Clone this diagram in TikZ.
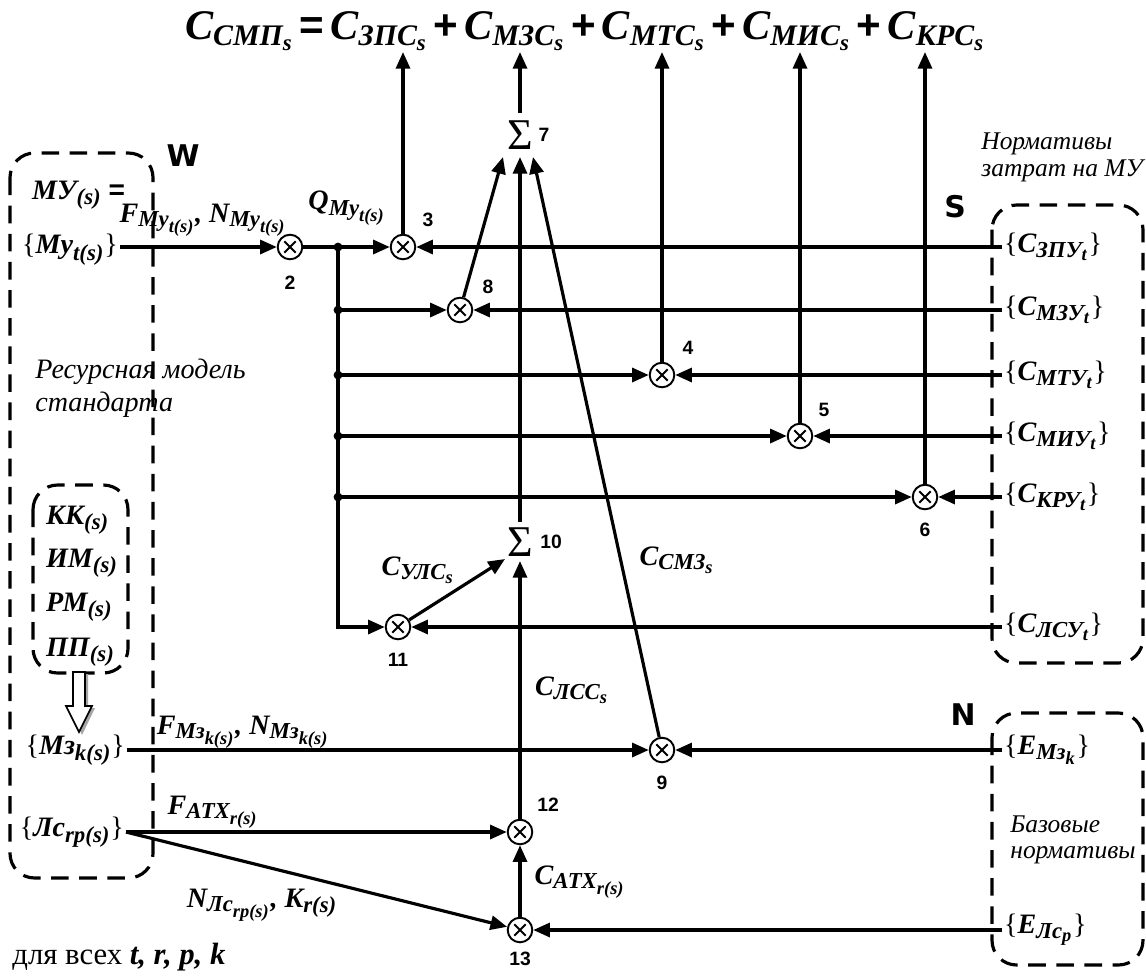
\documentclass[tikz,border=0pt]{standalone}
\usepackage{amsmath}
\usepackage{fontspec}
\setmainfont{Liberation Serif}
\setsansfont{Liberation Sans}
\newfontfamily\dvs{DejaVu Sans}
\usetikzlibrary{arrows.meta,calc}
\DeclareMathSizes{16}{16}{13}{10.5}
\DeclareMathSizes{24}{24}{17}{13}
\newcommand{\T}[1]{\text{#1}}
\newcommand{\LB}{{\normalfont\{}}
\newcommand{\RB}{{\normalfont\}}}
\newcommand{\op}[1]{\hspace{3.5pt}{\sffamily\upshape #1}\hspace{3.5pt}}
\tikzset{
 lbl/.style={font=\fontsize{16}{19}\selectfont\bfseries\itshape, inner sep=1pt},
 bigf/.style={font=\fontsize{24}{30}\selectfont\bfseries\itshape, inner sep=0pt},
 num/.style={font=\fontsize{11}{13}\selectfont\sffamily\bfseries, inner sep=0pt},
 dbox/.style={dash pattern=on 10pt off 6pt, line width=1.8pt, rounded corners=14pt},
 ln/.style={line width=1.8pt},
 ar/.style={line width=1.8pt, -{Triangle[length=9.5pt,width=8pt]}},
 mul/.style={circle, draw, line width=1.1pt, minimum size=14pt, inner sep=0pt, fill=white,
   path picture={\draw[line width=1.1pt]
     ($(path picture bounding box.center)+(45:4.6pt)$) -- ($(path picture bounding box.center)+(225:4.6pt)$)
     ($(path picture bounding box.center)+(135:4.6pt)$) -- ($(path picture bounding box.center)+(-45:4.6pt)$);}},
 sig/.style={font=\fontsize{25}{27}\selectfont, inner sep=0pt},
 junc/.style={circle, fill, inner sep=0pt, minimum size=5pt},
 wsn/.style={font=\fontsize{17}{19}\selectfont\dvs\bfseries, inner sep=0pt},
 note/.style={font=\fontsize{16}{19}\selectfont\itshape, align=left, inner sep=0pt},
}
\begin{document}
\begin{tikzpicture}[x=0.02cm,y=-0.02cm]
\useasboundingbox (0,0) rectangle (1146,975);
% formula
\node[bigf] (F) at (585,31) {$\T{C}_{\T{СМП}_{\T{s}}}$\op{=}$\T{C}_{\T{ЗПС}_{\T{s}}}$\op{+}$\T{C}_{\T{МЗС}_{\T{s}}}$\op{+}$\T{C}_{\T{МТС}_{\T{s}}}$\op{+}$\T{C}_{\T{МИС}_{\T{s}}}$\op{+}$\T{C}_{\T{КРС}_{\T{s}}}$};
\coordinate (top) at (0,52);
% boxes
\draw[dbox] (10,153) rectangle (153,878);
\draw[dbox] (33,485) rectangle (128,673);
\draw[dbox] (992,205) rectangle (1143,663);
\draw[dbox] (992,713) rectangle (1143,965);
\node[wsn] (W) at (183,156) {W};
\node[wsn] (S) at (955,207) {S};
\node[wsn] (N) at (963,715) {N};
% hollow arrow
\fill[gray!70] (76,674) -- (76,708) -- (69,708) -- (82,735) -- (95,708) -- (88,708) -- (88,674) -- cycle;
\draw[line width=1pt, fill=white] (73,672) -- (73,706) -- (66,706) -- (79,732) -- (92,706) -- (85,706) -- (85,672) -- cycle;
% left texts
\node[lbl, anchor=west] (mu) at (30,195) {МУ$_{\T{(s)}}$ {\sffamily\upshape =}};
\node[lbl, anchor=east] (myt) at (120,250) {\LB$\T{Му}_{\T{t(s)}}$\RB};
\node[lbl, anchor=west] (kk) at (44,520) {КК$_{\T{(s)}}$};
\node[lbl, anchor=west] (im) at (44,563) {ИМ$_{\T{(s)}}$};
\node[lbl, anchor=west] (rm) at (44,607) {РМ$_{\T{(s)}}$};
\node[lbl, anchor=west] (pp) at (44,652) {ПП$_{\T{(s)}}$};
\node[lbl, anchor=east] (mz) at (127,750) {\LB$\T{Мз}_{\T{k(s)}}$\RB};
\node[lbl, anchor=east] (lc) at (126,832) {\LB$\T{Лс}_{\T{rp(s)}}$\RB};
\node[note, anchor=west] (res) at (35,388) {Ресурсная модель\\стандарта};
\node[anchor=west, inner sep=0pt, font=\fontsize{17.5}{20}\selectfont] (dv) at (12,957) {для всех \textbf{\textit{t, r, p, k}}};
% right texts
\node[note, anchor=west, font=\fontsize{14.5}{15.5}\selectfont\itshape] (nz) at (981,157) {Нормативы\\затрат на МУ};
\node[note, anchor=west, font=\fontsize{14.5}{15}\selectfont\itshape] (bn) at (1010,840) {Базовые\\нормативы};
\node[lbl, anchor=west] (c1) at (1002,247) {\LB$\T{C}_{\T{ЗПУ}_{\T{t}}}$\RB};
\node[lbl, anchor=west] (c2) at (1002,310) {\LB$\T{C}_{\T{МЗУ}_{\T{t}}}$\RB};
\node[lbl, anchor=west] (c3) at (1002,375) {\LB$\T{C}_{\T{МТУ}_{\T{t}}}$\RB};
\node[lbl, anchor=west] (c4) at (1002,436) {\LB$\T{C}_{\T{МИУ}_{\T{t}}}$\RB};
\node[lbl, anchor=west] (c5) at (1002,497) {\LB$\T{C}_{\T{КРУ}_{\T{t}}}$\RB};
\node[lbl, anchor=west] (c6) at (1002,627) {\LB$\T{C}_{\T{ЛСУ}_{\T{t}}}$\RB};
\node[lbl, anchor=west] (e1) at (1002,750) {\LB$\T{E}_{\T{Мз}_{\T{k}}}$\RB};
\node[lbl, anchor=west] (e2) at (1002,930) {\LB$\T{E}_{\T{Лс}_{\T{p}}}$\RB};
% operators
\node[mul] (m2) at (290,247) {};
\node[mul] (m3) at (403,247) {};
\node[mul] (m8) at (460,310) {};
\node[mul] (m4) at (662,375) {};
\node[mul] (m5) at (800,436) {};
\node[mul] (m6) at (925,497) {};
\node[mul] (m11) at (398,627) {};
\node[mul] (m9) at (662,750) {};
\node[mul] (m12) at (520,832) {};
\node[mul] (m13) at (520,930) {};
\node[sig] (s7) at (520,135) {Σ};
\node[sig] (s10) at (520,542) {Σ};
% numbers
\node[num] (n2) at (290,283) {2};
\node[num] (n3) at (428,220) {3};
\node[num] (n8) at (488,287) {8};
\node[num] (n4) at (688,348) {4};
\node[num] (n5) at (824,410) {5};
\node[num] (n6) at (925,530) {6};
\node[num] (n7) at (544,135) {7};
\node[num] (n10) at (551,542) {10};
\node[num] (n11) at (398,660) {11};
\node[num] (n9) at (662,783) {9};
\node[num] (n12) at (548,805) {12};
\node[num] (n13) at (520,959) {13};
% edge labels
\node[lbl] (fmy) at (203,220) {$\T{F}_{\T{Му}_{\T{t(s)}}}$, $\T{N}_{\T{Му}_{\T{t(s)}}}$};
\node[lbl] (q) at (347,208) {$\T{Q}_{\T{Му}_{\T{t(s)}}}$};
\node[lbl] (fmz) at (243,732) {$\T{F}_{\T{Мз}_{\T{k(s)}}}$, $\T{N}_{\T{Мз}_{\T{k(s)}}}$};
\node[lbl] (fatx) at (213,812) {$\T{F}_{\T{АТХ}_{\T{r(s)}}}$};
\node[lbl] (nlc) at (262,905) {$\T{N}_{\T{Лс}_{\T{rp(s)}}}$, $\T{K}_{\T{r(s)}}$};
\node[lbl] (cul) at (418,570) {$\T{C}_{\T{УЛС}_{\T{s}}}$};
\node[lbl] (csm) at (677,560) {$\T{C}_{\T{СМЗ}_{\T{s}}}$};
\node[lbl] (clc) at (572,690) {$\T{C}_{\T{ЛСС}_{\T{s}}}$};
\node[lbl] (catx) at (580,882) {$\T{C}_{\T{АТХ}_{\T{r(s)}}}$};
% branch points
\coordinate (b1) at (338,247);
\coordinate (b2) at (338,310);
\coordinate (b3) at (338,375);
\coordinate (b4) at (338,436);
\coordinate (b5) at (338,497);
% connectors
\draw[ar] (myt.east |- m2) -- (m2);
\draw[ar] (m2) -- (m3);
\draw[ar] (b1) |- (m11);
\draw[ar] (b2) -- (m8);
\draw[ar] (b3) -- (m4);
\draw[ar] (b4) -- (m5);
\draw[ar] (b5) -- (m6);
\foreach \b in {b1,b2,b3,b4,b5} \node[junc] at (\b) {};
\draw[ar] (c1.west) -- (m3);
\draw[ar] (c2.west) -- (m8);
\draw[ar] (c3.west) -- (m4);
\draw[ar] (c4.west) -- (m5);
\draw[ar] (c5.west) -- (m6);
\draw[ar] (c6.west) -- (m11);
\draw[ar] (e1.west) -- (m9);
\draw[ar] (e2.west) -- (m13);
\draw[ar] (mz.east) -- (m9);
\draw[ar] (lc.east) -- (m12);
\draw[ar] (lc.east) -- (m13);
\draw[ar] (m13) -- (m12);
\draw[ar] (m12) -- ($(s10)+(0,19)$);
\draw[ar] (m11) -- ($(s10)+(-15,17)$);
\draw[ar] ($(s10)+(0,-20)$) -- ($(s7)+(0,22)$);
\draw[ar] (m8) -- ($(s7)+(-17,22)$);
\draw[ar] (m9) -- ($(s7)+(13,22)$);
\draw[ar] (m3) -- (m3 |- top);
\draw[ar] ($(s7)+(0,-22)$) -- (s7 |- top);
\draw[ar] (m4) -- (m4 |- top);
\draw[ar] (m5) -- (m5 |- top);
\draw[ar] (m6) -- (m6 |- top);
\end{tikzpicture}
\end{document}
